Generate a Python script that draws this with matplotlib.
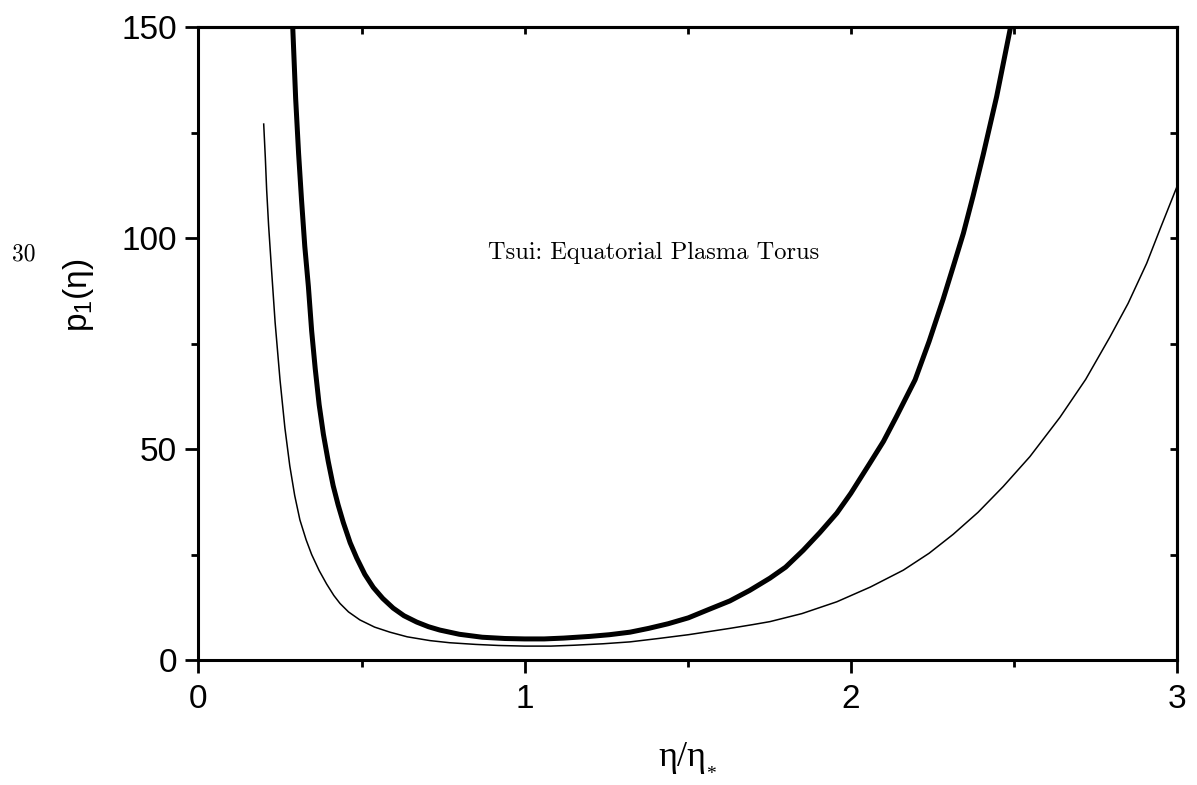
import matplotlib
matplotlib.use('Agg')
import matplotlib.pyplot as plt
import matplotlib.ticker as ticker

# thin curve
thin_x = [0.200, 0.205, 0.209, 0.215, 0.224, 0.235, 0.250, 0.265, 0.280, 0.295,
          0.311, 0.330, 0.347, 0.370, 0.393, 0.415, 0.434, 0.460, 0.495, 0.540,
          0.587, 0.640, 0.710, 0.770, 0.850, 0.920, 1.000, 1.080, 1.150, 1.240,
          1.323, 1.410, 1.502, 1.570, 1.629, 1.700, 1.752, 1.850, 1.957, 2.060,
          2.161, 2.240, 2.314, 2.390, 2.467, 2.549, 2.641, 2.720, 2.794, 2.850,
          2.907, 2.950, 3.000]
thin_y = [127.0, 119.0, 111.5, 103.0, 92.5, 80.0, 66.4, 55.0, 46.0, 39.0,
          33.2, 28.5, 25.0, 21.2, 18.0, 15.3, 13.4, 11.4, 9.5, 7.8,
          6.6, 5.5, 4.6, 4.1, 3.7, 3.45, 3.3, 3.3, 3.5, 3.85,
          4.3, 5.1, 6.0, 6.8, 7.5, 8.4, 9.1, 11.0, 13.8, 17.3,
          21.3, 25.3, 29.8, 35.0, 41.1, 48.2, 57.5, 66.5, 76.5, 84.5,
          94.0, 102.5, 112.2]

# thick curve
thick_x = [0.280, 0.289, 0.298, 0.307, 0.316, 0.326, 0.337, 0.347, 0.358, 0.370,
           0.383, 0.398, 0.413, 0.428, 0.444, 0.465, 0.485, 0.510, 0.536, 0.565,
           0.597, 0.630, 0.669, 0.705, 0.740, 0.800, 0.870, 0.940, 1.000, 1.060,
           1.120, 1.200, 1.260, 1.323, 1.380, 1.440, 1.502, 1.565, 1.629, 1.690,
           1.752, 1.800, 1.854, 1.905, 1.957, 2.000, 2.058, 2.100, 2.140, 2.197,
           2.240, 2.283, 2.315, 2.345, 2.375, 2.406, 2.447, 2.488, 2.500]
thick_y = [165.0, 150.0, 133.0, 120.0, 109.0, 98.0, 88.5, 78.0, 69.0, 60.5,
           53.5, 47.0, 41.3, 36.8, 32.6, 27.8, 24.2, 20.3, 17.2, 14.6,
           12.3, 10.5, 9.0, 7.9, 7.1, 6.1, 5.4, 5.1, 5.0, 5.0,
           5.2, 5.6, 6.0, 6.6, 7.5, 8.6, 10.0, 12.0, 14.0, 16.5,
           19.4, 22.0, 26.0, 30.2, 34.8, 39.5, 46.6, 51.8, 57.7, 66.4,
           75.5, 85.5, 93.5, 101.1, 110.0, 119.8, 133.5, 149.3, 154.0]

x_ticks = [0, 1, 2, 3]
y_ticks = [0, 50, 100, 150]

plt.rcParams['font.family'] = 'Liberation Sans'
plt.rcParams['mathtext.fontset'] = 'custom'
plt.rcParams['mathtext.rm'] = 'Liberation Serif'
plt.rcParams['mathtext.sf'] = 'Liberation Sans'

fig = plt.figure(figsize=(11.97, 7.85), dpi=100)
fig.patch.set_facecolor('white')
ax = fig.add_axes([0.1658, 0.1592, 0.8175, 0.8064])

ax.plot(thin_x, thin_y, color='black', linewidth=1.1)
ax.plot(thick_x, thick_y, color='black', linewidth=3.6)

ax.set_xlim(0, 3)
ax.set_ylim(0, 150)
ax.set_xticks(x_ticks)
ax.set_yticks(y_ticks)
ax.xaxis.set_minor_locator(ticker.MultipleLocator(0.5))
ax.yaxis.set_minor_locator(ticker.MultipleLocator(25))

for s in ax.spines.values():
    s.set_linewidth(2.2)

ax.tick_params(which='major', direction='out', length=9.5, width=2.0,
               labelsize=24, pad=6)
ax.tick_params(which='minor', direction='out', length=5, width=2.0)
ax.tick_params(axis='x', which='major', pad=8)

# inward ticks on top and right, no labels
top = ax.secondary_xaxis('top')
top.set_xticks(x_ticks)
top.xaxis.set_minor_locator(ticker.MultipleLocator(0.5))
top.tick_params(which='both', direction='in', length=5, width=2.0, labeltop=False)
top.spines['top'].set_linewidth(2.2)
right = ax.secondary_yaxis('right')
right.set_yticks(y_ticks)
right.yaxis.set_minor_locator(ticker.MultipleLocator(25))
right.tick_params(which='both', direction='in', length=5, width=2.0, labelright=False)
right.spines['right'].set_linewidth(2.2)

W, H = 1197, 785
fig.text(79 / W, 1 - 295 / H, r'p$_\mathsf{1}$(η)', rotation=90,
         ha='center', va='center', fontsize=24)
# x label: eta / eta with a small starred subscript
fig.text(682 / W, 1 - 766 / H, 'η/η', family='Liberation Serif',
         ha='center', va='baseline', fontsize=26)
fig.text(706 / W, 1 - 779 / H, '*', family='Liberation Serif',
         ha='left', va='baseline', fontsize=14)
fig.text(654 / W, 1 - 253 / H, 'Tsui: Equatorial Plasma Torus',
         family='cmr10', ha='center', va='center', fontsize=17.6)
fig.text(24 / W, 1 - 254 / H, '30', family='cmr10',
         ha='center', va='center', fontsize=17)

fig.savefig('out.png', dpi=100, facecolor='white')
plt.close(fig)
